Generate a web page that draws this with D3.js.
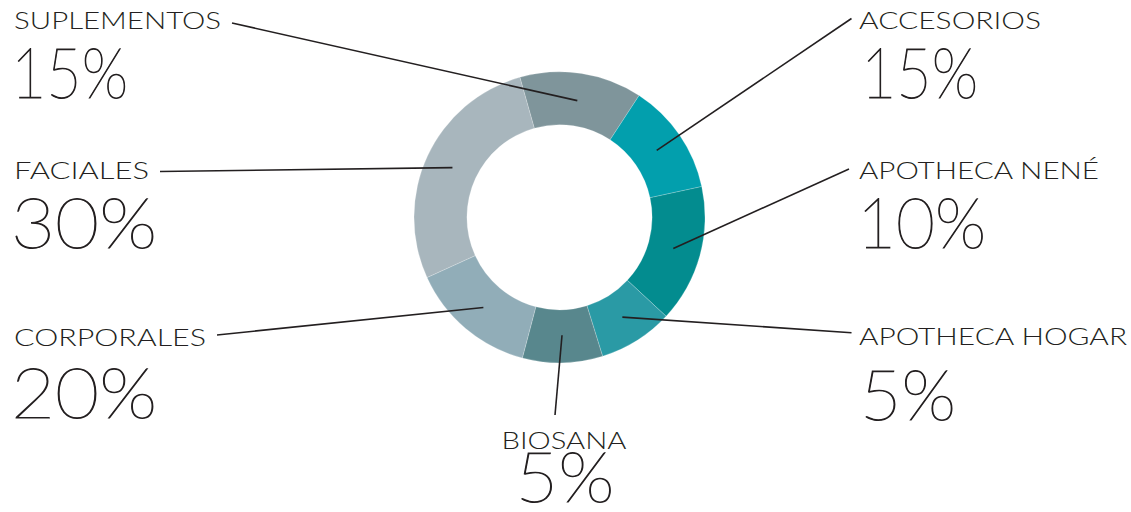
<!DOCTYPE html>
<html>
<head>
<meta charset="utf-8">
<script src="https://cdn.jsdelivr.net/npm/d3@7"></script>
<style>
  html, body { margin: 0; padding: 0; background: #ffffff; }
  svg { display: block; }
  text { font-family: "Lato", "Open Sans", sans-serif; fill: #231f20; }
</style>
</head>
<body>
<svg id="chart" width="1131" height="512"></svg>
<script>
// ---- data ----
const categories = ["SUPLEMENTOS", "ACCESORIOS", "APOTHECA NENÉ", "APOTHECA HOGAR", "BIOSANA", "CORPORALES", "FACIALES"];
// slice shares as drawn in the picture (angular share of the ring)
const shares = [13.6, 12.4, 15.3, 8.3, 8.9, 14.1, 27.4];
// percentage labels printed next to each category
const percentLabels = ["15%", "15%", "10%", "5%", "5%", "20%", "30%"];
const colors = ["#7f959b", "#029fad", "#038c8f", "#2a9aa5", "#58878d", "#91adb8", "#a8b6bd"];

// ---- layout ----
const width = 1131, height = 512;
const cx = 559.5, cy = 217.3, outerR = 145.5, innerR = 92.6;
const startDeg = -15.8;
// label anchor: x, baseline of name, baseline of percent, text-anchor, leader end, text widths
const labelLayout = {
  "SUPLEMENTOS":    {x: 14,  px: 11,  y1: 28.5,  y2: 98,  anchor: "start",  end: [232, 23],      w1: 207, w2: 117},
  "ACCESORIOS":     {x: 859, px: 861, y1: 28.5,  y2: 98,  anchor: "start",  end: [851.5, 18.5],  w1: 182, w2: 117},
  "APOTHECA NENÉ":  {x: 859, px: 857, y1: 179,   y2: 248, anchor: "start",  end: [849, 169],     w1: 240, w2: 129},
  "APOTHECA HOGAR": {x: 859, px: 860, y1: 345,   y2: 420, anchor: "start",  end: [851.5, 332.7], w1: 268, w2: 96},
  "BIOSANA":        {x: 564, px: 565, y1: 448.5, y2: 502, anchor: "middle", end: [555, 415],     w1: 125, w2: 99},
  "CORPORALES":     {x: 14,  px: 11,  y1: 346,   y2: 418, anchor: "start",  end: [217, 335],     w1: 192, w2: 146},
  "FACIALES":       {x: 14,  px: 11,  y1: 178.5, y2: 248, anchor: "start",  end: [160, 171.5],   w1: 135, w2: 146}
};

const svg = d3.select("#chart");
const g = svg.append("g").attr("transform", `translate(${cx},${cy})`);

const rad = d => d * Math.PI / 180;
const pie = d3.pie().sort(null).value(d => d.value)
  .startAngle(rad(startDeg)).endAngle(rad(startDeg + 360));
const data = categories.map((c, i) => ({name: c, value: shares[i], pct: percentLabels[i], color: colors[i]}));
const arcs = pie(data);
const arc = d3.arc().innerRadius(innerR).outerRadius(outerR);
const mid = d3.arc().innerRadius(118).outerRadius(118);

g.selectAll("path.slice").data(arcs).join("path")
  .attr("class", "slice")
  .attr("d", arc)
  .attr("fill", d => d.data.color)
  .attr("stroke", "#ffffff")
  .attr("stroke-opacity", 0.35)
  .attr("stroke-width", 0.6);

// leader lines
svg.selectAll("line.leader").data(arcs).join("line")
  .attr("class", "leader")
  .attr("x1", d => cx + mid.centroid(d)[0])
  .attr("y1", d => cy + mid.centroid(d)[1])
  .attr("x2", d => labelLayout[d.data.name].end[0])
  .attr("y2", d => labelLayout[d.data.name].end[1])
  .attr("stroke", "#231f20")
  .attr("stroke-width", 1.6);

// labels
const lab = svg.selectAll("g.lab").data(data).join("g").attr("class", "lab");
lab.append("text")
  .attr("x", d => labelLayout[d.name].x)
  .attr("y", d => labelLayout[d.name].y1)
  .attr("text-anchor", d => labelLayout[d.name].anchor)
  .attr("font-size", 24)
  .attr("font-weight", 300)
  .attr("textLength", d => labelLayout[d.name].w1)
  .attr("lengthAdjust", "spacingAndGlyphs")
  .text(d => d.name);
lab.append("text")
  .attr("x", d => labelLayout[d.name].px)
  .attr("y", d => labelLayout[d.name].y2)
  .attr("text-anchor", d => labelLayout[d.name].anchor)
  .attr("font-size", 70)
  .attr("font-weight", 100)
  .attr("stroke", "#231f20")
  .attr("stroke-width", 1)
  .attr("textLength", d => labelLayout[d.name].w2)
  .attr("lengthAdjust", "spacingAndGlyphs")
  .text(d => d.pct);
</script>
</body>
</html>
